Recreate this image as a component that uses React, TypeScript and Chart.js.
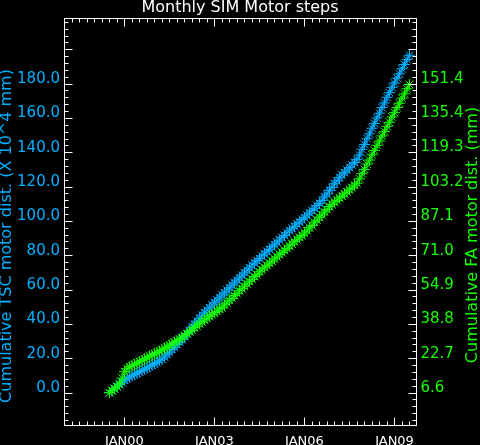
import { useEffect, useRef } from 'react';
import { Chart, registerables } from 'chart.js';

Chart.register(...registerables);

const chartTitle = 'Monthly SIM Motor steps';
const leftTitle = 'Cumulative TSC motor dist. (X 10^4 mm)';
const rightTitle = 'Cumulative FA motor dist. (mm)';

// first monthly sample: Jul 1999 (decimal year)
const firstMonth = 1999.5;

// Cumulative TSC motor distance (X 10^4 mm), monthly from Jul 1999
const tscSteps = [
  0.2, 1.3, 2.7, 3.6, 5.0, 6.0,
  7.4, 8.4, 9.4, 10.0, 10.9, 11.5, 12.4, 13.0, 14.0, 14.6, 15.5, 16.2,
  17.2, 17.8, 18.8, 19.8, 21.0, 22.6, 23.8, 25.4, 26.7, 28.3, 29.6, 31.2,
  32.8, 34.7, 36.3, 38.3, 40.0, 41.9, 43.5, 45.4, 46.8, 48.4, 49.7, 51.3,
  52.6, 54.2, 55.5, 57.1, 58.4, 60.0, 61.3, 62.9, 64.2, 65.8, 67.1, 68.7,
  70.0, 71.6, 72.9, 74.5, 75.7, 77.2, 78.3, 79.9, 81.0, 82.6, 83.7, 85.3,
  86.4, 88.0, 89.1, 90.7, 91.8, 93.4, 94.5, 96.0, 97.1, 98.6, 99.6, 101.1,
  102.2, 103.7, 104.9, 106.4, 107.6, 109.2, 110.5, 112.2, 114.3, 116.0, 118.1, 119.8,
  121.9, 123.6, 125.5, 127.1, 128.4, 130.0, 131.3, 132.9, 134.3, 136.0, 138.6, 142.0,
  144.8, 148.2, 151.0, 154.3, 157.0, 160.3, 163.0, 166.3, 169.0, 172.3, 175.0, 178.1,
  180.6, 183.5, 186.0, 188.9, 191.4, 194.3, 196.8,
];

// Cumulative FA motor distance (mm), monthly from Jul 1999
const faDist = [
  6.8, 7.8, 8.6, 9.8, 10.9, 13.6,
  16.6, 18.0, 18.9, 19.4, 20.1, 20.6, 21.4, 21.8, 22.6, 23.1, 23.9, 24.3,
  25.1, 25.6, 26.3, 26.8, 27.7, 28.1, 29.1, 29.6, 30.5, 31.0, 31.9, 32.4,
  33.6, 34.3, 35.4, 36.1, 37.3, 38.0, 39.1, 39.9, 40.9, 41.6, 42.6, 43.3,
  44.3, 44.9, 46.0, 46.6, 47.9, 48.8, 50.1, 51.0, 52.3, 53.2, 54.6, 55.5,
  56.7, 57.7, 59.0, 59.9, 61.2, 62.1, 63.4, 64.3, 65.5, 66.4, 67.5, 68.4,
  69.5, 70.4, 71.5, 72.4, 73.5, 74.4, 75.6, 76.4, 77.6, 78.4, 79.6, 80.4,
  81.6, 82.6, 84.1, 85.1, 86.6, 87.6, 89.0, 90.1, 91.5, 92.6, 94.0, 95.0,
  96.2, 96.9, 98.1, 98.8, 100.0, 100.8, 101.9, 102.8, 104.0, 104.9, 107.0, 109.4,
  111.4, 113.9, 115.8, 118.3, 120.3, 122.7, 124.7, 127.1, 129.1, 131.6, 133.5, 136.0,
  138.0, 140.4, 142.4, 144.8, 146.8, 149.2, 151.2,
];

const xTickValues = [2000, 2003, 2006, 2009];
const xTickLabels = ['JAN00', 'JAN03', 'JAN06', 'JAN09'];
const leftTickValues = [0, 20, 40, 60, 80, 100, 120, 140, 160, 180];
const rightTickValues = [6.6, 22.7, 38.8, 54.9, 71.0, 87.1, 103.2, 119.3, 135.4, 151.4];

const CYAN = 'rgb(0,176,255)';
const GREEN = 'rgb(20,255,0)';
const FONT = 'DejaVu Sans';

const X_MIN = 1998.0;
const X_MAX = 2009.733;
const Y_MIN = -18.9;
const Y_MAX = 218.2;
// right axis is a linear rescaling of the left one
const R_SCALE = (151.4 - 6.6) / 180;
const Y2_MIN = 6.6 + R_SCALE * Y_MIN;
const Y2_MAX = 6.6 + R_SCALE * Y_MAX;

const framePlugin = {
  id: 'frameTicks',
  afterDraw(chart: any) {
    const { ctx, chartArea: a, scales } = chart;
    const xs = scales.x;
    const ys = scales.y;
    const y2s = scales.y2;
    ctx.save();
    ctx.strokeStyle = '#ffffff';
    ctx.lineWidth = 1;
    ctx.strokeRect(a.left, a.top, a.right - a.left, a.bottom - a.top);
    const seg = (x1: number, y1: number, x2: number, y2: number) => {
      ctx.beginPath();
      ctx.moveTo(x1, y1);
      ctx.lineTo(x2, y2);
      ctx.stroke();
    };
    // bottom/top ticks: quarterly minor, 3-yearly major
    for (let k = 0; k < 200; k++) {
      const v = X_MIN + k * 0.25;
      if (v > X_MAX + 1e-6) break;
      const p = Math.floor(xs.getPixelForValue(v)) + 0.5;
      const q = (v - 2000) / 3;
      const major = Math.abs(q - Math.round(q)) < 1e-6;
      const len = major ? 8 : 4;
      seg(p, a.bottom, p, a.bottom - len);
      seg(p, a.top, p, a.top + len);
    }
    // left ticks
    for (let v = -16; v <= Y_MAX; v += 4) {
      const p = Math.floor(ys.getPixelForValue(v)) + 0.5;
      const len = v % 20 === 0 ? 8 : 4;
      seg(a.left, p, a.left + len, p);
    }
    // right ticks
    const rStepExact = (151.4 - 6.6) / 45;
    for (let k = -4; k <= 60; k++) {
      const v = 6.6 + k * rStepExact;
      if (v > Y2_MAX) break;
      if (v < Y2_MIN) continue;
      const p = Math.floor(y2s.getPixelForValue(v)) + 0.5;
      const len = ((k % 5) + 5) % 5 === 0 ? 8 : 4;
      seg(a.right, p, a.right - len, p);
    }
    // axis titles
    ctx.font = `16px "${FONT}"`;
    ctx.textAlign = 'center';
    ctx.textBaseline = 'alphabetic';
    ctx.save();
    ctx.translate(11, 236);
    ctx.rotate(-Math.PI / 2);
    ctx.fillStyle = CYAN;
    ctx.fillText(leftTitle, 0, 0);
    ctx.restore();
    ctx.save();
    ctx.translate(477, 235);
    ctx.rotate(-Math.PI / 2);
    ctx.fillStyle = GREEN;
    ctx.fillText(rightTitle, 0, 0);
    ctx.restore();
    ctx.restore();
  },
};

export default function App() {
  const ref = useRef<HTMLCanvasElement | null>(null);

  useEffect(() => {
    document.body.style.margin = '0';
    document.body.style.background = '#000';
    const canvas = ref.current;
    if (!canvas) return;
    Chart.defaults.font.family = FONT;
    const months = tscSteps.map((_, i) => firstMonth + i / 12);
    const chart = new Chart(canvas, {
      type: 'line',
      data: {
        datasets: [
          {
            label: 'FA',
            data: faDist.map((v, i) => ({ x: months[i], y: v })),
            yAxisID: 'y2',
            borderColor: GREEN,
            backgroundColor: GREEN,
            borderWidth: 1,
            pointStyle: 'star',
            pointRadius: 5.5,
            pointBorderWidth: 1,
            pointBorderColor: GREEN,
            fill: false,
            tension: 0,
            order: 0,
          },
          {
            label: 'TSC',
            data: tscSteps.map((v, i) => ({ x: months[i], y: v })),
            yAxisID: 'y',
            borderColor: CYAN,
            backgroundColor: CYAN,
            borderWidth: 1,
            pointStyle: 'star',
            pointRadius: 5.5,
            pointBorderWidth: 1,
            pointBorderColor: CYAN,
            fill: false,
            tension: 0,
            order: 1,
          },
        ],
      },
      options: {
        responsive: false,
        animation: false,
        events: [],
        layout: { padding: 0 },
        plugins: {
          legend: { display: false },
          tooltip: { enabled: false },
          title: {
            display: true,
            text: chartTitle,
            color: '#ffffff',
            font: { family: FONT, size: 16, weight: 'normal', lineHeight: 1 },
            padding: { top: 0, bottom: 2.5 },
          },
        },
        scales: {
          x: {
            type: 'linear',
            min: X_MIN,
            max: X_MAX,
            grid: { display: false, drawTicks: false },
            border: { display: false },
            afterBuildTicks: (s: any) => {
              s.ticks = xTickValues.map((v) => ({ value: v }));
            },
            afterFit: (s: any) => {
              s.height = 19.5;
            },
            ticks: {
              autoSkip: false,
              maxRotation: 0,
              minRotation: 0,
              color: '#ffffff',
              font: { family: FONT, size: 13 },
              padding: 8,
              callback: (v: any) => xTickLabels[xTickValues.indexOf(Number(v))] ?? '',
            },
          },
          y: {
            type: 'linear',
            position: 'left',
            min: Y_MIN,
            max: Y_MAX,
            grid: { display: false, drawTicks: false },
            border: { display: false },
            afterBuildTicks: (s: any) => {
              s.ticks = leftTickValues.map((v) => ({ value: v }));
            },
            afterFit: (s: any) => {
              s.width = 64.5;
            },
            ticks: {
              autoSkip: false,
              color: CYAN,
              font: { family: FONT, size: 15 },
              padding: 4.5,
              labelOffset: -5,
              callback: (v: any) => Number(v).toFixed(1),
            },
          },
          y2: {
            type: 'linear',
            position: 'right',
            min: Y2_MIN,
            max: Y2_MAX,
            grid: { display: false, drawTicks: false },
            border: { display: false },
            afterBuildTicks: (s: any) => {
              s.ticks = rightTickValues.map((v) => ({ value: v }));
            },
            afterFit: (s: any) => {
              s.width = 63.5;
            },
            ticks: {
              autoSkip: false,
              color: GREEN,
              font: { family: FONT, size: 15 },
              padding: 4,
              labelOffset: -5,
              callback: (v: any) => Number(v).toFixed(1),
            },
          },
        },
      },
      plugins: [framePlugin],
    });
    return () => chart.destroy();
  }, []);

  return (
    <div style={{ width: 480, height: 445, background: '#000' }}>
      <canvas ref={ref} width={480} height={445} style={{ display: 'block', background: '#000' }} />
    </div>
  );
}
